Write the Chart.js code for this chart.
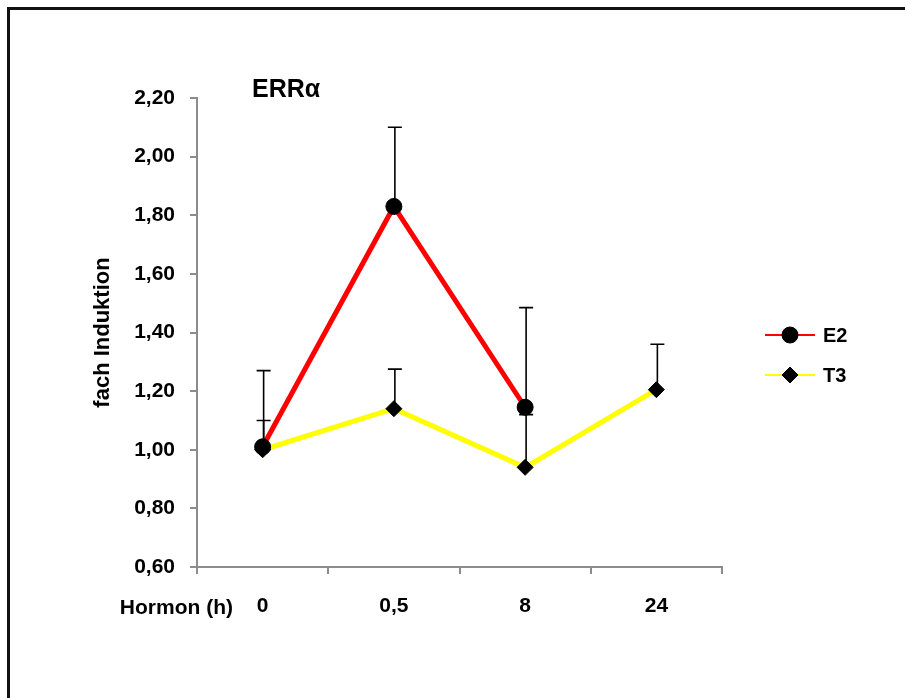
<!DOCTYPE html>
<html>
<head>
<meta charset="utf-8">
<script src="https://cdn.jsdelivr.net/npm/chart.js@4.4.1/dist/chart.umd.min.js"></script>
<style>
  html, body { margin: 0; padding: 0; background: #fff; }
  #wrap { position: relative; width: 905px; height: 698px; overflow: hidden; }
  #frame { position: absolute; left: 7px; top: 7px; width: 1000px; height: 1000px;
           border-left: 3px solid #111; border-top: 3px solid #111; }
  canvas { position: absolute; left: 0; top: 0; }
</style>
</head>
<body>
<div id="wrap">
  <div id="frame"></div>
  <canvas id="chart" width="905" height="698"></canvas>
</div>
<script>
// Werte
const categories = ['0', '0,5', '8', '24'];
const e2Values = [1.01, 1.83, 1.145, null];
const e2Errors = [0.26, 0.27, 0.34, null];
const t3Values = [1.00, 1.14, 0.94, 1.205];
const t3Errors = [0.10, 0.135, 0.18, 0.155];
const yMin = 0.6, yMax = 2.2, yStep = 0.2;

const FONT = 'Liberation Sans, Arial, sans-serif';
const AXIS_GREY = '#8c8c8c';

// Fehlerbalken (nur nach oben)
const errorBars = {
    id: 'errorBars',
    afterDatasetsDraw(chart) {
        const ctx = chart.ctx;
        const yScale = chart.scales.y;
        ctx.save();
        ctx.strokeStyle = '#000';
        ctx.lineWidth = 1.6;
        chart.data.datasets.forEach((ds, i) => {
            const meta = chart.getDatasetMeta(i);
            ds.errors.forEach((err, j) => {
                const v = ds.data[j];
                if (v == null || err == null) return;
                const x = meta.data[j].x + 1;
                const y0 = yScale.getPixelForValue(v);
                const y1 = yScale.getPixelForValue(v + err);
                ctx.beginPath();
                ctx.moveTo(x, y0);
                ctx.lineTo(x, y1);
                ctx.moveTo(x - 7, y1);
                ctx.lineTo(x + 7, y1);
                ctx.stroke();
            });
        });
        ctx.restore();
    }
};

// Titel, Achsenbeschriftung links unten und Legende
const extras = {
    id: 'extras',
    afterDraw(chart) {
        const ctx = chart.ctx;
        const area = chart.chartArea;
        ctx.save();
        ctx.fillStyle = '#000';

        ctx.font = 'bold 25px ' + FONT;
        ctx.textAlign = 'left';
        ctx.textBaseline = 'alphabetic';
        ctx.fillText('ERRα', area.left + 55, area.top - 1);

        ctx.font = 'bold 21px ' + FONT;
        ctx.textAlign = 'right';
        ctx.textBaseline = 'middle';
        ctx.fillText('Hormon (h)', 233, chart.scales.x.top + 41);

        // Legende
        chart.data.datasets.forEach((ds, i) => {
            const y = 335 + i * 40;
            const x0 = area.right + 43;
            ctx.strokeStyle = ds.borderColor;
            ctx.lineWidth = 2;
            ctx.beginPath();
            ctx.moveTo(x0, y);
            ctx.lineTo(x0 + 50, y);
            ctx.stroke();
            ctx.fillStyle = '#000';
            ctx.strokeStyle = '#000';
            ctx.lineWidth = 1;
            Chart.helpers.drawPoint(ctx, { pointStyle: ds.pointStyle, radius: ds.pointRadius, rotation: 0, borderWidth: 1 }, x0 + 25, y);
            ctx.font = 'bold 20px ' + FONT;
            ctx.textAlign = 'left';
            ctx.fillText(ds.label, x0 + 58, y + 1);
        });
        ctx.restore();
    }
};

const tickFont = { family: FONT, size: 21, weight: 'bold' };

new Chart(document.getElementById('chart').getContext('2d'), {
    type: 'line',
    data: {
        labels: categories,
        datasets: [
            {
                label: 'E2',
                data: e2Values,
                errors: e2Errors,
                borderColor: '#ff0000',
                borderWidth: 5,
                pointStyle: 'circle',
                pointRadius: 8,
                pointBackgroundColor: '#000',
                pointBorderColor: '#000',
                pointBorderWidth: 1,
                tension: 0
            },
            {
                label: 'T3',
                data: t3Values,
                errors: t3Errors,
                borderColor: '#ffff00',
                borderWidth: 5,
                pointStyle: 'rectRot',
                pointRadius: 8,
                pointBackgroundColor: '#000',
                pointBorderColor: '#000',
                pointBorderWidth: 1,
                tension: 0
            }
        ]
    },
    options: {
        responsive: false,
        animation: false,
        devicePixelRatio: 1,
        layout: { padding: { top: 98, right: 183, left: 0, bottom: 0 } },
        plugins: {
            legend: { display: false },
            tooltip: { enabled: false }
        },
        scales: {
            x: {
                type: 'category',
                offset: true,
                grid: { offset: true, drawOnChartArea: false, drawTicks: true, tickLength: 7, color: AXIS_GREY, lineWidth: 2 },
                border: { color: AXIS_GREY, width: 2 },
                ticks: { font: tickFont, color: '#000', padding: 20, maxRotation: 0 },
                afterFit(s) { s.height = 131; }
            },
            y: {
                min: yMin,
                max: yMax,
                grid: { drawOnChartArea: false, drawTicks: true, tickLength: 7, color: AXIS_GREY, lineWidth: 2 },
                border: { color: AXIS_GREY, width: 2 },
                ticks: {
                    stepSize: yStep,
                    font: tickFont,
                    color: '#000',
                    padding: 15,
                    callback: v => v.toFixed(2).replace('.', ',')
                },
                title: {
                    display: true,
                    text: 'fach Induktion',
                    font: { family: FONT, size: 22, weight: 'bold' },
                    color: '#000',
                    padding: { top: 90, bottom: 0 }
                },
                afterFit(s) { s.width = 197; }
            }
        }
    },
    plugins: [errorBars, extras]
});
</script>
</body>
</html>
